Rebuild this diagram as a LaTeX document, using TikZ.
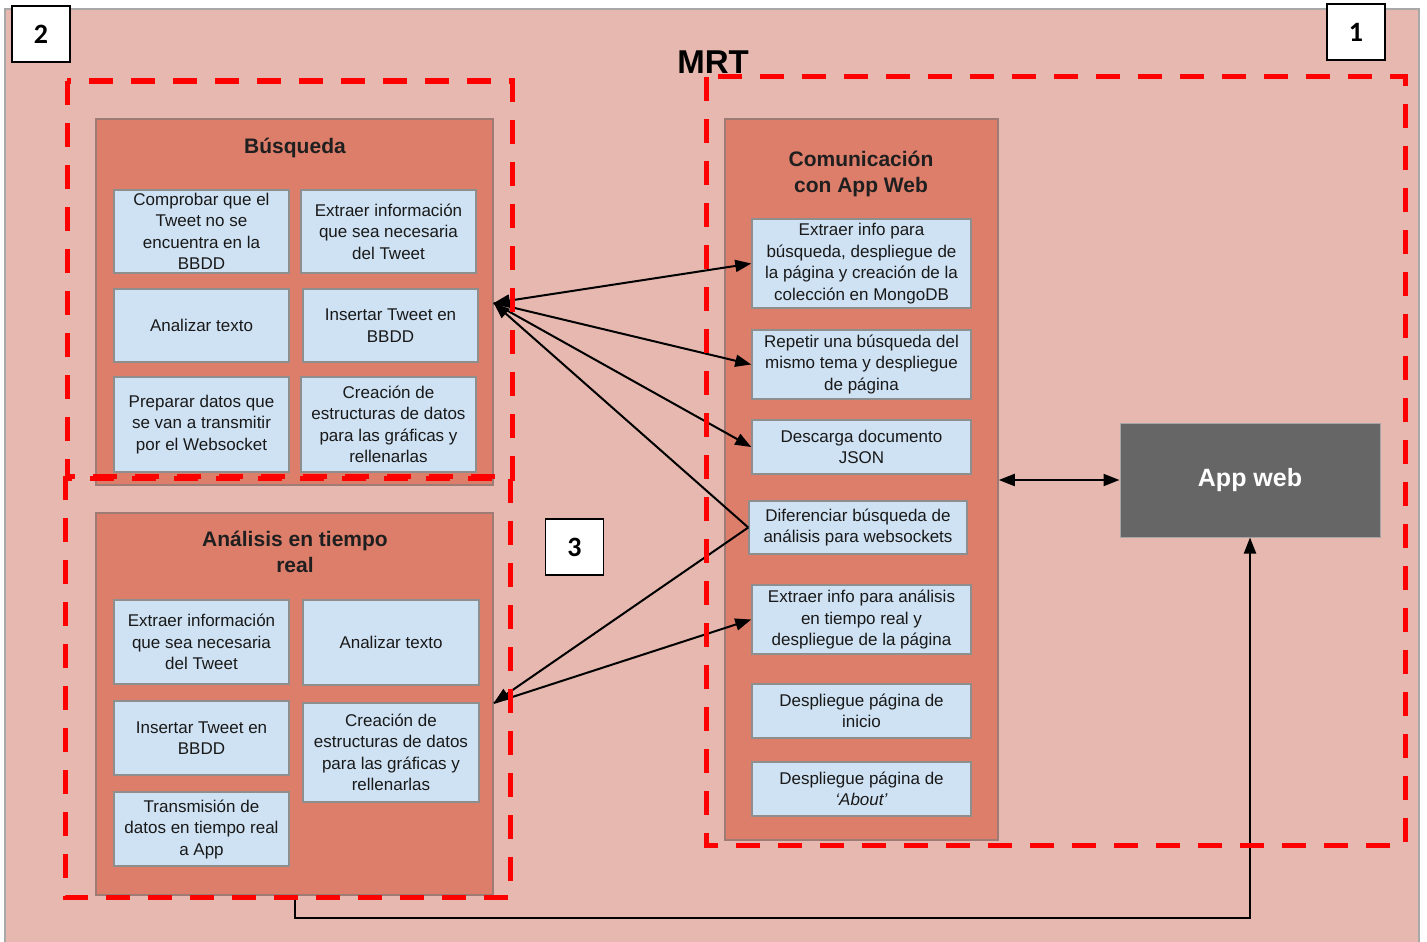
\documentclass[tikz,border=0pt]{standalone}
\usepackage{fontspec}
\setmainfont{Liberation Sans}
\newfontfamily\numfont{Carlito}
\usetikzlibrary{arrows.meta,calc}

\definecolor{bgpink}{HTML}{E6B8AF}
\definecolor{salmon}{HTML}{DD7E6B}
\definecolor{paleblue}{HTML}{CFE2F3}
\definecolor{appgray}{HTML}{666666}
\definecolor{zonered}{HTML}{FF0000}
\definecolor{boxline}{HTML}{8E8E8E}
\definecolor{panelline}{HTML}{9E7B74}
\definecolor{outerline}{HTML}{A8A8A8}

\tikzset{
  panel/.style={draw=panelline, line width=1.5pt, fill=salmon, inner sep=0pt},
  task/.style={draw=boxline, line width=1.5pt, fill=paleblue, align=center,
    font=\fontsize{17}{21.5}\selectfont, text=black!90, inner sep=0pt},
  ptitle/.style={font=\fontsize{21}{26}\selectfont\bfseries, align=center, text=black!88},
  zone/.style={draw=zonered, line width=5pt, dash pattern=on 24pt off 18pt},
  tag/.style={draw=black, line width=1.5pt, fill=white,
    font=\numfont\fontsize{28}{28}\selectfont\bfseries,
    minimum width=58pt, minimum height=56pt, inner sep=0pt},
  link/.style={draw=black, line width=2pt},
  arrowend/.style={-{Triangle[length=16pt,width=12pt]}},
  twoends/.style={{Triangle[length=16pt,width=12pt]}-{Triangle[length=16pt,width=12pt]}},
}

% box given by its corners: name, x1, y1, x2, y2, text
\newcommand{\taskbox}[6]{%
  \node[task, minimum width={#4-#2}, minimum height={#5-#3}] (#1)
    at ({(#2+#4)/2},{(#3+#5)/2}) {#6};}
\newcommand{\panelbox}[5]{%
  \node[panel, minimum width={#4-#2}, minimum height={#5-#3}] (#1)
    at ({(#2+#4)/2},{(#3+#5)/2}) {};}

\begin{document}
\begin{tikzpicture}[x=1pt,y=-1pt]
\useasboundingbox (0,0) rectangle (1427,942);
\clip (0,0) rectangle (1427,942);
\fill[white] (0,0) rectangle (1427,942);

% system frame
\draw[outerline, line width=2pt, fill=bgpink] (5,9) rectangle (1419,960);

% containers
\panelbox{busq}{96}{119}{493}{485}
\panelbox{ana}{96}{513}{493}{895}
\panelbox{com}{725}{119}{998}{840}

\node[ptitle] (busqT) at (295,148) {Búsqueda};
\node[ptitle] (anaT) at (295,552) {Análisis en tiempo\\real};
\node[ptitle] (comT) at (861,174) {Comunicación\\con App Web};

% search tasks
\taskbox{b1}{114}{190}{289}{273}{Comprobar que el\\Tweet no se\\encuentra en la\\BBDD}
\taskbox{b2}{301}{190}{476}{273}{Extraer información\\que sea necesaria\\del Tweet}
\taskbox{b3}{114}{289}{289}{362}{Analizar texto}
\taskbox{b4}{303}{289}{478}{362}{Insertar Tweet en\\BBDD}
\taskbox{b5}{114}{377}{289}{472}{Preparar datos que\\se van a transmitir\\por el Websocket}
\taskbox{b6}{301}{377}{476}{472}{Creación de\\estructuras de datos\\para las gráficas y\\rellenarlas}

% real-time analysis tasks
\taskbox{a1}{114}{600}{289}{684}{Extraer información\\que sea necesaria\\del Tweet}
\taskbox{a2}{303}{600}{479}{685}{Analizar texto}
\taskbox{a3}{114}{701}{289}{775}{Insertar Tweet en\\BBDD}
\taskbox{a4}{303}{703}{479}{802}{Creación de\\estructuras de datos\\para las gráficas y\\rellenarlas}
\taskbox{a5}{114}{792}{289}{866}{Transmisión de\\datos en tiempo real\\a App}

% web app communication tasks
\taskbox{c1}{752}{219}{971}{308}{Extraer info para\\búsqueda, despliegue de\\la página y creación de la\\colección en MongoDB}
\taskbox{c2}{752}{330}{971}{399}{Repetir una búsqueda del\\mismo tema y despliegue\\de página}
\taskbox{c3}{752}{420}{971}{474}{Descarga documento\\JSON}
\taskbox{dif}{749}{501}{967}{554}{Diferenciar búsqueda de\\análisis para websockets}
\taskbox{c5}{752}{585}{971}{654}{Extraer info para análisis\\en tiempo real y\\despliegue de la página}
\taskbox{c6}{752}{684}{971}{738}{Despliegue página de\\inicio}
\taskbox{c7}{752}{762}{971}{816}{Despliegue página de\\\textit{‘About’}}

% web application
\node[fill=appgray, draw=gray!70, line width=1pt, minimum width=260pt, minimum height=114pt,
  text=white, font=\fontsize{25}{25}\selectfont\bfseries] (app) at (1250,480) {App web};

% connectors
\coordinate (busIn) at (busq.east |- 0,303);
\coordinate (anaIn) at (ana.east |- 0,703);
\draw[link, twoends] (busIn) -- (c1.west);
\draw[link, arrowend] (busIn) -- (c2.west);
\draw[link, arrowend] (busIn) -- (c3.west);
\draw[link, arrowend] (dif.west) -- (busIn);
\draw[link, arrowend] (dif.west) -- (anaIn);
\draw[link, arrowend] (anaIn) -- (c5.west);
\draw[link, twoends] (com.east |- app.west) -- (app.west);
\draw[link, arrowend] (ana.south) -- ++(0,22) -| (app.south);

% title
\node[font=\fontsize{33}{33}\selectfont\bfseries] (mrt) at (713,62) {MRT};

% highlighted zones
\draw[zone] (706,77) rectangle (1405,845);
\draw[zone] (67,81) rectangle (512,478);
\draw[zone] (65,476) rectangle (510,897);

% zone tags
\node[tag] (tag2) at (41,34) {2};
\node[tag] (tag1) at (1356,32) {1};
\node[tag] (tag3) at (574.5,547) {3};
\end{tikzpicture}
\end{document}
